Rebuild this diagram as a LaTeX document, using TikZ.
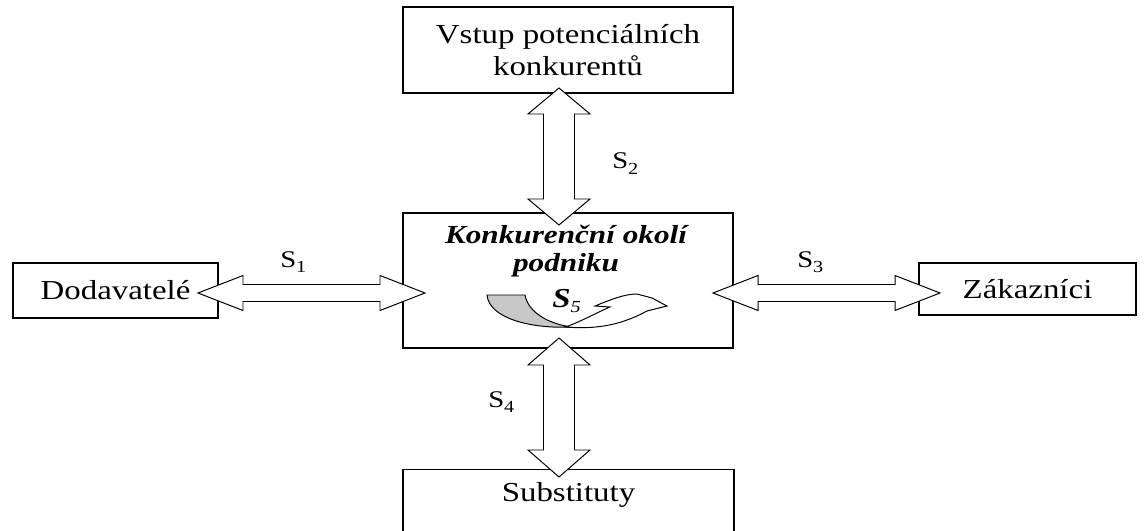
\documentclass[tikz,border=0pt]{standalone}
\usepackage{fontspec}
\setmainfont{Liberation Serif}[FakeStretch=1.2]
\usetikzlibrary{calc}
\newlength\px
\setlength\px{0.025cm}
\newcommand{\forceidx}[1]{\raisebox{-4pt}{\fontsize{12}{12}\selectfont #1}}

\begin{document}
\begin{tikzpicture}[x=0.025cm,y=-0.025cm]
    \tikzset{firmbox/.style={draw=black,line width=0.9pt,inner sep=0pt,align=center,font=\fontsize{19.5}{22.8}\selectfont}}
    \tikzset{blockarrow/.style={draw=black,fill=white,line width=0.7pt,line join=miter}}
    \tikzset{forcelabel/.style={anchor=base west,inner sep=0pt,font=\fontsize{17}{18}\selectfont}}

    \clip (0,0) rectangle (1144,531);
    \fill[white] (0,0) rectangle (1144,531);

    % the five boxes
    \node[firmbox,minimum width=330\px,minimum height=86\px] (entry) at (568,50) {Vstup potenciálních\\konkurentů};
    \node[firmbox,minimum width=205\px,minimum height=55\px] (supp) at (115.5,290.5) {Dodavatelé};
    \node[firmbox,minimum width=217\px,minimum height=52\px] (cust) at (1027.5,289) {Zákazníci};
    \node[firmbox,minimum width=330\px,minimum height=135\px] (core) at (568,280.5) {};
    \node[firmbox,minimum width=331\px,anchor=north,text height=32\px,text depth=70\px] (subst) at (568.5,469) {Substituty};

    \node[align=center,inner sep=0pt,font=\fontsize{18.5}{20}\selectfont\bfseries\itshape] (corename) at (566,251) {Konkurenční okolí\\podniku};
    \node[forcelabel,font=\fontsize{19.5}{20}\selectfont] (s5) at (552,307) {{\bfseries\itshape S}\forceidx{\itshape 5}};

    % rivalry arrow inside the core box
    \filldraw[fill=black!22,line width=0.7pt] (487,295) -- (525,295) .. controls (528,312) and (548,324) .. (572,327) .. controls (530,329) and (489,318) .. (487,295) -- cycle;
    \filldraw[fill=white,line width=0.7pt] (566,327) .. controls (584,320) and (598,312) .. (610,307) -- (595,306) .. controls (612,299) and (625,294) .. (637,294) -- (652,298) -- (667,306) -- (647,311) .. controls (625,323) and (600,330) .. (566,327) -- cycle;

    % block arrows between the boxes
    \coordinate (s1l) at (198,293);
    \coordinate (s1r) at (425,293);
    \coordinate (s3l) at (713,293);
    \coordinate (s3r) at (940,293);
    \coordinate (s2t) at (559,88);
    \coordinate (s2b) at (559,225);
    \coordinate (s4t) at (559,338);
    \coordinate (s4b) at (559,477);

    \draw[blockarrow] (s1l) -- ++(45,-17.5) -- ++(0,9) -- ($(s1r)+(-45,-8.5)$) -- ++(0,-9) -- (s1r) -- ++(-45,17.5) -- ++(0,-9) -- ($(s1l)+(45,8.5)$) -- ++(0,9) -- cycle;
    \draw[blockarrow] (s3l) -- ++(45,-17.5) -- ++(0,9) -- ($(s3r)+(-45,-8.5)$) -- ++(0,-9) -- (s3r) -- ++(-45,17.5) -- ++(0,-9) -- ($(s3l)+(45,8.5)$) -- ++(0,9) -- cycle;
    \draw[blockarrow] (s2t) -- ++(31,26) -- ++(-15.5,0) -- ($(s2b)+(15.5,-26)$) -- ++(15.5,0) -- (s2b) -- ++(-31,-26) -- ++(15.5,0) -- ($(s2t)+(-15.5,26)$) -- ++(-15.5,0) -- cycle;
    \draw[blockarrow] (s4t) -- ++(31,27) -- ++(-15.5,0) -- ($(s4b)+(15.5,-27)$) -- ++(15.5,0) -- (s4b) -- ++(-31,-27) -- ++(15.5,0) -- ($(s4t)+(-15.5,27)$) -- ++(-15.5,0) -- cycle;

    \node[forcelabel] (s1) at (280,267) {S\forceidx{1}};
    \node[forcelabel] (s2) at (612,169) {S\forceidx{2}};
    \node[forcelabel] (s3) at (797,267) {S\forceidx{3}};
    \node[forcelabel] (s4) at (488,407) {S\forceidx{4}};
\end{tikzpicture}
\end{document}
